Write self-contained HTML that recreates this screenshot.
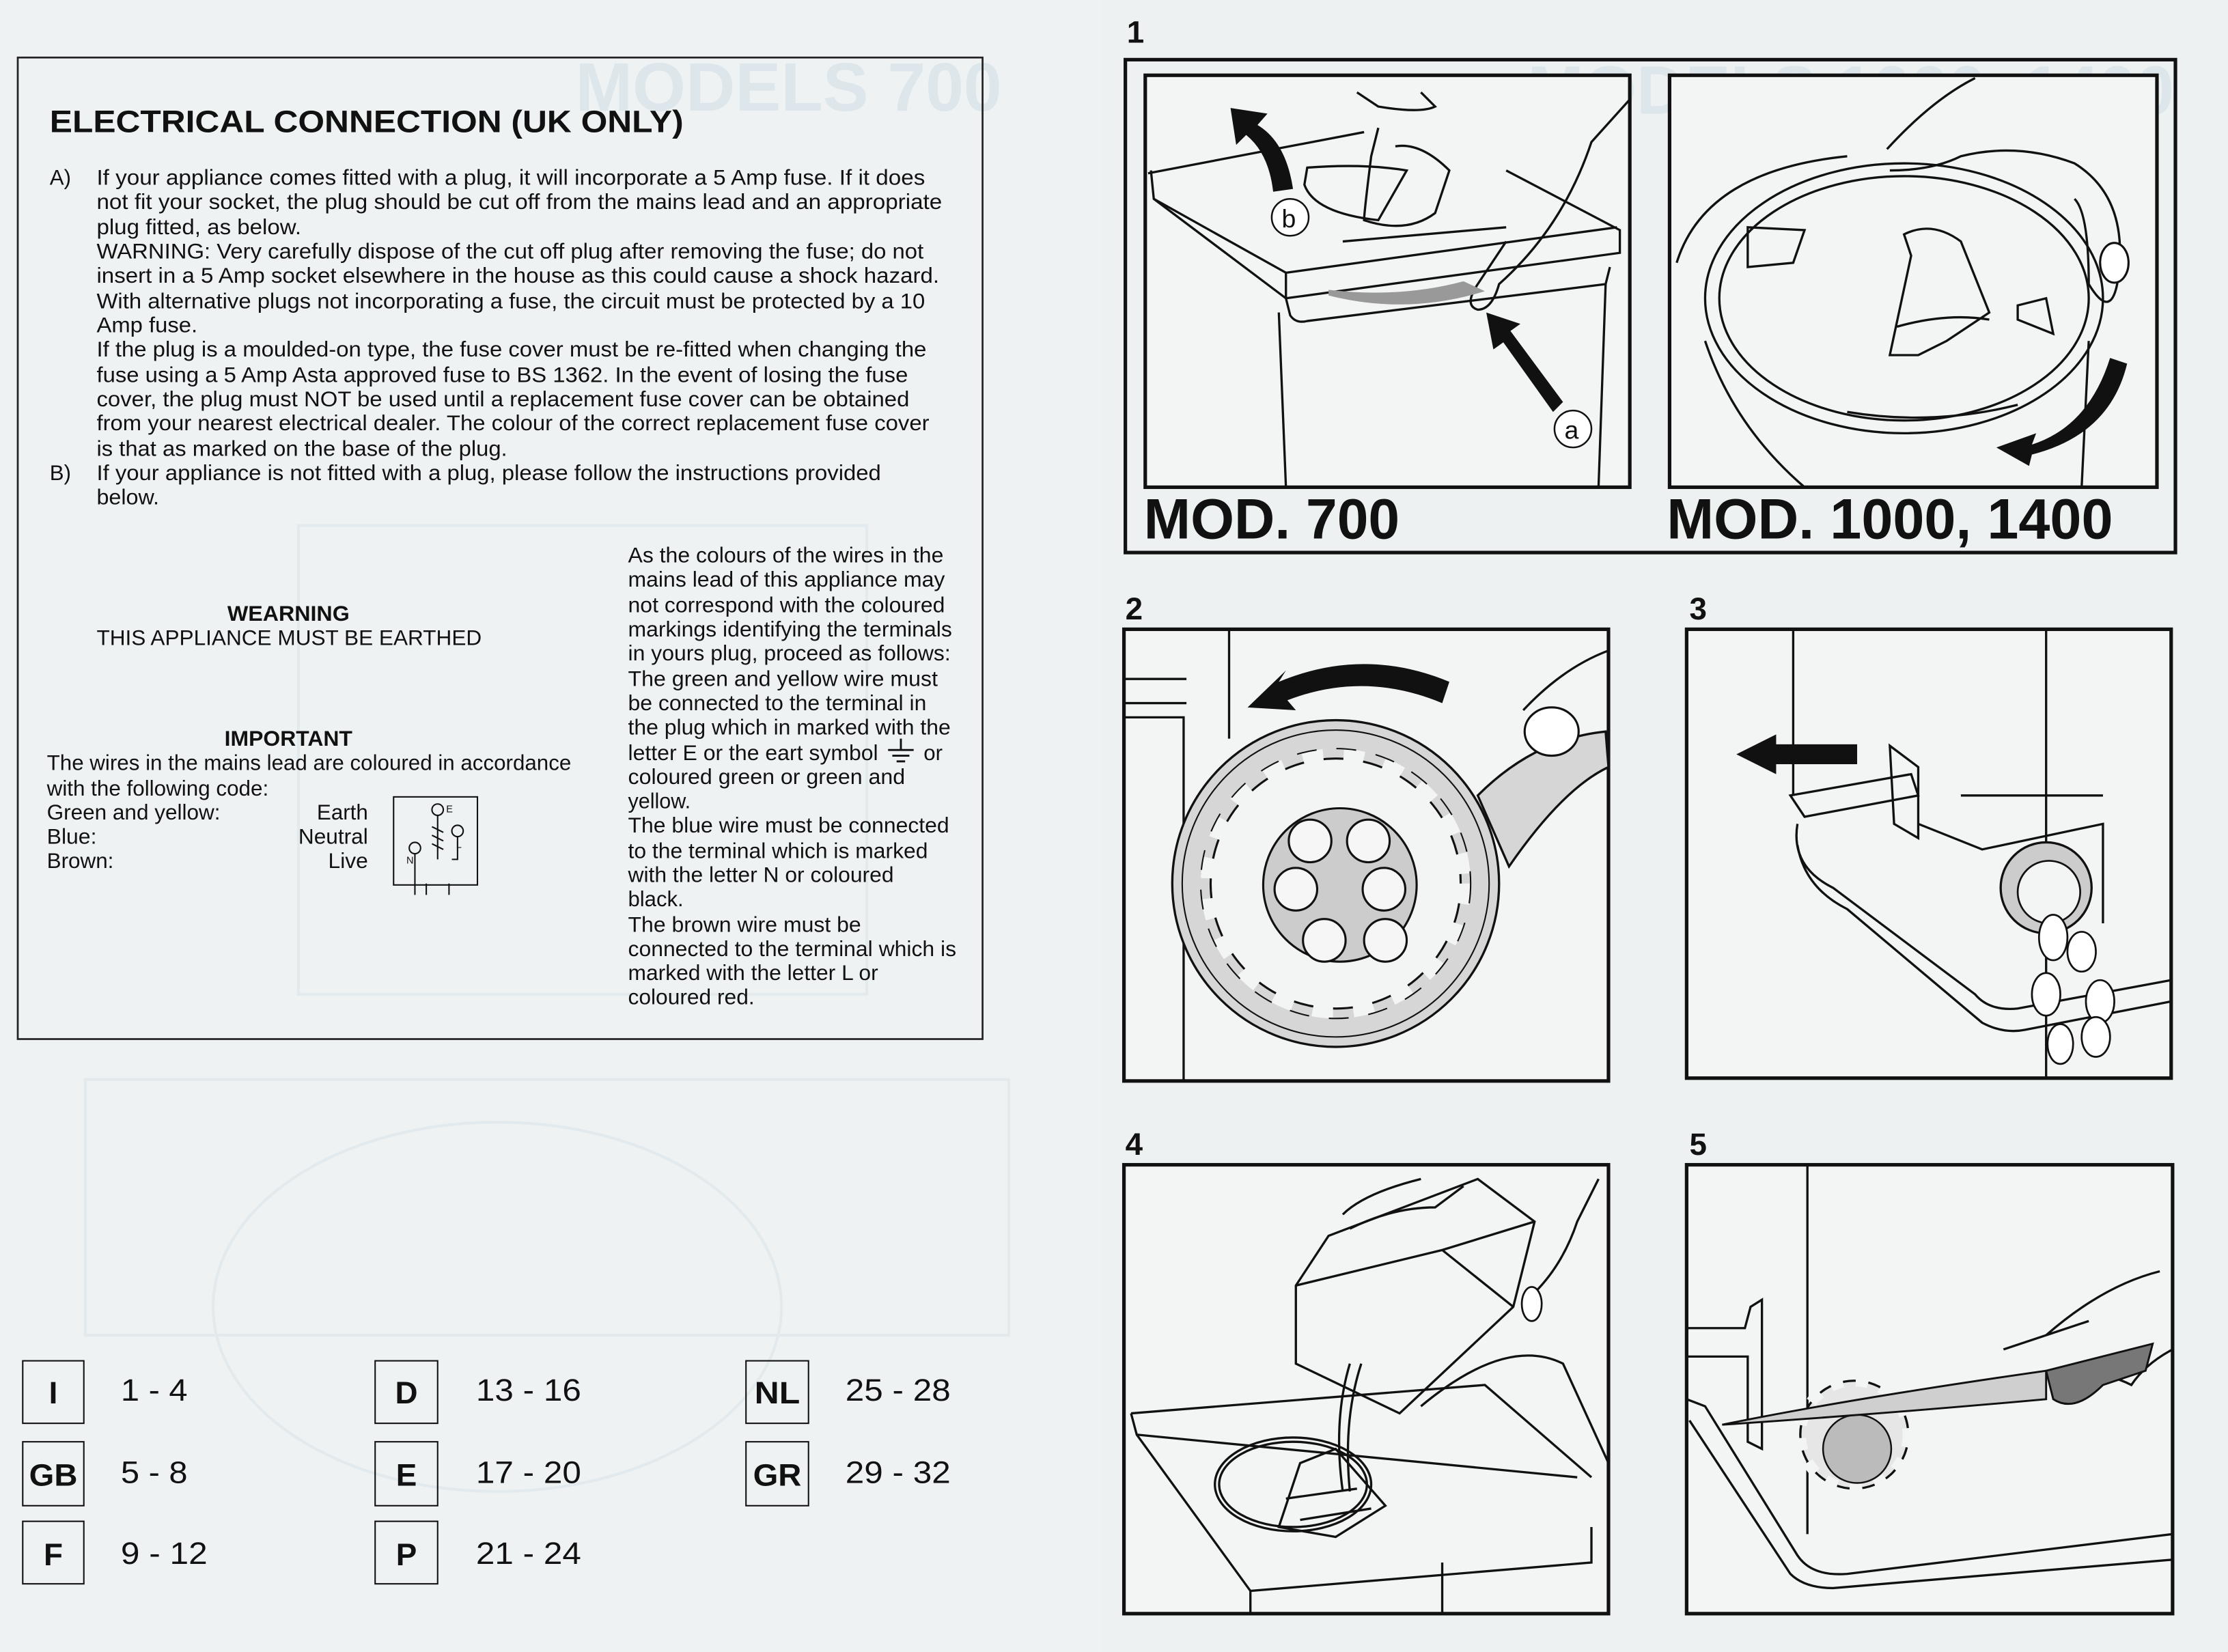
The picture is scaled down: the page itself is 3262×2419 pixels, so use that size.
<!DOCTYPE html>
<html><head><meta charset="utf-8"><style>
html,body{margin:0;padding:0;background:#eef2f3;}
svg{display:block}
text{font-family:"Liberation Sans",sans-serif;fill:#111}
text.gh{fill:#dde6eb}
.b{font-size:15px}
.g{fill:none;stroke:#111;stroke-width:1.6}
.t{fill:none;stroke:#111;stroke-width:1}
</style></head><body>
<svg width="3262" height="2419" viewBox="0 0 1568 1163" preserveAspectRatio="none" xmlns="http://www.w3.org/2000/svg">
<rect width="1568" height="1163" fill="#eef2f3"/>
<rect x="775" y="0" width="793" height="1163" fill="#edf1f2"/>
<!-- ghost background -->
<text class="gh" x="405" y="78" font-size="48" font-weight="bold" textLength="300" lengthAdjust="spacingAndGlyphs">MODELS 700</text>
<text class="gh" x="1075" y="80" font-size="48" font-weight="bold" textLength="455" lengthAdjust="spacingAndGlyphs">MODELS 1000, 1400</text>
<g fill="none" stroke="#e2eaee" stroke-width="2">
<rect x="210" y="370" width="400" height="330"/>
<ellipse cx="350" cy="920" rx="200" ry="130"/>
<rect x="60" y="760" width="650" height="180"/>
</g>
<!-- LEFT BOX -->
<rect x="12.5" y="40.5" width="679" height="691" fill="none" stroke="#222" stroke-width="1.3"/>
<text x="35" y="93" font-size="22" font-weight="bold" textLength="446" lengthAdjust="spacingAndGlyphs">ELECTRICAL CONNECTION (UK ONLY)</text>
<g class="b">
<text x="35" y="130">A)</text>
<text x="68" y="130" textLength="583" lengthAdjust="spacingAndGlyphs">If your appliance comes fitted with a plug, it will incorporate a 5 Amp fuse. If it does</text>
<text x="68" y="147" textLength="595" lengthAdjust="spacingAndGlyphs">not fit your socket, the plug should be cut off from the mains lead and an appropriate</text>
<text x="68" y="165" textLength="144" lengthAdjust="spacingAndGlyphs">plug fitted, as below.</text>
<text x="68" y="182" textLength="582" lengthAdjust="spacingAndGlyphs">WARNING: Very carefully dispose of the cut off plug after removing the fuse; do not</text>
<text x="68" y="199" textLength="593" lengthAdjust="spacingAndGlyphs">insert in a 5  Amp socket elsewhere in the house as this could cause a shock hazard.</text>
<text x="68" y="217" textLength="583" lengthAdjust="spacingAndGlyphs">With alternative plugs not incorporating a fuse, the circuit must be protected by a 10</text>
<text x="68" y="234" textLength="71" lengthAdjust="spacingAndGlyphs">Amp fuse.</text>
<text x="68" y="251" textLength="584" lengthAdjust="spacingAndGlyphs">If the plug is a moulded-on type, the fuse cover must be re-fitted when changing the</text>
<text x="68" y="269" textLength="571" lengthAdjust="spacingAndGlyphs">fuse using a 5 Amp Asta approved fuse to BS 1362. In the event of losing the fuse</text>
<text x="68" y="286" textLength="572" lengthAdjust="spacingAndGlyphs">cover, the plug must NOT be used until a replacement fuse cover can be obtained</text>
<text x="68" y="303" textLength="586" lengthAdjust="spacingAndGlyphs">from your nearest electrical dealer. The colour of the correct replacement fuse cover</text>
<text x="68" y="321" textLength="289" lengthAdjust="spacingAndGlyphs">is that as marked on the base of the plug.</text>
<text x="35" y="338">B)</text>
<text x="68" y="338" textLength="552" lengthAdjust="spacingAndGlyphs">If your appliance is not fitted with a plug, please follow the instructions provided</text>
<text x="68" y="355" textLength="44" lengthAdjust="spacingAndGlyphs">below.</text>

<text x="160" y="437" font-weight="bold" textLength="86" lengthAdjust="spacingAndGlyphs">WEARNING</text>
<text x="68" y="454" textLength="271" lengthAdjust="spacingAndGlyphs">THIS APPLIANCE MUST BE EARTHED</text>
<text x="158" y="525" font-weight="bold" textLength="90" lengthAdjust="spacingAndGlyphs">IMPORTANT</text>
<text x="33" y="542" textLength="369" lengthAdjust="spacingAndGlyphs">The wires in the mains lead are coloured in accordance</text>
<text x="33" y="560" textLength="156" lengthAdjust="spacingAndGlyphs">with the following code:</text>
<text x="33" y="577" textLength="122" lengthAdjust="spacingAndGlyphs">Green and yellow:</text>
<text x="33" y="594" textLength="35" lengthAdjust="spacingAndGlyphs">Blue:</text>
<text x="33" y="611" textLength="47" lengthAdjust="spacingAndGlyphs">Brown:</text>
<text x="223" y="577" textLength="36" lengthAdjust="spacingAndGlyphs">Earth</text>
<text x="210" y="594" textLength="49" lengthAdjust="spacingAndGlyphs">Neutral</text>
<text x="231" y="611" textLength="28" lengthAdjust="spacingAndGlyphs">Live</text>

<text x="442" y="396" textLength="222" lengthAdjust="spacingAndGlyphs">As the colours of the wires in the</text>
<text x="442" y="413" textLength="223" lengthAdjust="spacingAndGlyphs">mains lead of this appliance may</text>
<text x="442" y="431" textLength="223" lengthAdjust="spacingAndGlyphs">not correspond with the coloured</text>
<text x="442" y="448" textLength="228" lengthAdjust="spacingAndGlyphs">markings identifying the terminals</text>
<text x="442" y="465" textLength="227" lengthAdjust="spacingAndGlyphs">in yours plug, proceed as follows:</text>
<text x="442" y="483" textLength="218" lengthAdjust="spacingAndGlyphs">The green and yellow wire must</text>
<text x="442" y="500" textLength="210" lengthAdjust="spacingAndGlyphs">be connected to the terminal in</text>
<text x="442" y="517" textLength="227" lengthAdjust="spacingAndGlyphs">the plug which in marked with the</text>
<text x="442" y="535" textLength="176" lengthAdjust="spacingAndGlyphs">letter E or the eart symbol</text>
<text x="650" y="535">or</text>
<text x="442" y="552" textLength="195" lengthAdjust="spacingAndGlyphs">coloured green or green and</text>
<text x="442" y="569" textLength="44" lengthAdjust="spacingAndGlyphs">yellow.</text>
<text x="442" y="586" textLength="226" lengthAdjust="spacingAndGlyphs">The blue wire must be connected</text>
<text x="442" y="604" textLength="211" lengthAdjust="spacingAndGlyphs">to the terminal which is marked</text>
<text x="442" y="621" textLength="187" lengthAdjust="spacingAndGlyphs">with the letter N or coloured</text>
<text x="442" y="638" textLength="39" lengthAdjust="spacingAndGlyphs">black.</text>
<text x="442" y="656" textLength="164" lengthAdjust="spacingAndGlyphs">The brown wire must be</text>
<text x="442" y="673" textLength="231" lengthAdjust="spacingAndGlyphs">connected to the terminal which is</text>
<text x="442" y="690" textLength="176" lengthAdjust="spacingAndGlyphs">marked with the letter L or</text>
<text x="442" y="707" textLength="89" lengthAdjust="spacingAndGlyphs">coloured red.</text>
</g>
<!-- earth symbol -->
<g stroke="#111" stroke-width="1.4">
<line x1="634" y1="520" x2="634" y2="528"/><line x1="625" y1="528" x2="643" y2="528"/><line x1="628" y1="532" x2="640" y2="532"/><line x1="631" y1="536" x2="637" y2="536"/>
</g>
<!-- plug symbol -->
<g class="t" stroke-width="1.3">
<rect x="277" y="561" width="59" height="62"/>
<circle cx="308" cy="570" r="4"/><circle cx="292" cy="597" r="4"/><circle cx="322" cy="585" r="4"/>
<path d="M308 574 V605 M292 601 V630 M322 589 V605 H318 M300 630 V622 M316 630 V622"/>
<path d="M304 582 l8 4 M304 588 l8 4 M304 594 l8 4"/>
</g>
<text x="314" y="572" font-size="7">E</text><text x="286" y="608" font-size="7">N</text><text x="321" y="597" font-size="7">L</text>

<!-- language boxes -->
<g class="t" stroke-width="1.4">
<rect x="16" y="958" width="43" height="44"/><rect x="16" y="1015" width="43" height="45"/><rect x="16" y="1071" width="43" height="44"/>
<rect x="264" y="958" width="44" height="44"/><rect x="264" y="1015" width="44" height="45"/><rect x="264" y="1071" width="44" height="44"/>
<rect x="525" y="958" width="44" height="44"/><rect x="525" y="1015" width="44" height="45"/>
</g>
<g font-size="22" font-weight="bold" text-anchor="middle">
<text x="37.5" y="988">I</text><text x="37.5" y="1046" textLength="34" lengthAdjust="spacingAndGlyphs">GB</text><text x="37.5" y="1102">F</text>
<text x="286" y="988">D</text><text x="286" y="1046">E</text><text x="286" y="1102">P</text>
<text x="547" y="988" textLength="32" lengthAdjust="spacingAndGlyphs">NL</text><text x="547" y="1046" textLength="34" lengthAdjust="spacingAndGlyphs">GR</text>
</g>
<g font-size="22">
<text x="85" y="986" textLength="47" lengthAdjust="spacingAndGlyphs">1 - 4</text>
<text x="85" y="1044" textLength="47" lengthAdjust="spacingAndGlyphs">5 - 8</text>
<text x="85" y="1101" textLength="61" lengthAdjust="spacingAndGlyphs">9 - 12</text>
<text x="335" y="986" textLength="74" lengthAdjust="spacingAndGlyphs">13 - 16</text>
<text x="335" y="1044" textLength="74" lengthAdjust="spacingAndGlyphs">17 - 20</text>
<text x="335" y="1101" textLength="74" lengthAdjust="spacingAndGlyphs">21 - 24</text>
<text x="595" y="986" textLength="74" lengthAdjust="spacingAndGlyphs">25 - 28</text>
<text x="595" y="1044" textLength="74" lengthAdjust="spacingAndGlyphs">29 - 32</text>
</g>

<!-- RIGHT PAGE -->
<g font-size="22" font-weight="bold">
<text x="793" y="30">1</text><text x="792" y="436">2</text><text x="1189" y="436">3</text><text x="792" y="813">4</text><text x="1189" y="813">5</text>
</g>
<rect x="792" y="42" width="739" height="347" fill="none" stroke="#111" stroke-width="2.5"/>
<rect x="806" y="53" width="341" height="290" fill="#f3f5f5" stroke="#111" stroke-width="2.5"/>
<rect x="1175" y="53" width="343" height="290" fill="#f3f5f5" stroke="#111" stroke-width="2.5"/>
<text x="805" y="379" font-size="40" font-weight="bold" textLength="180" lengthAdjust="spacingAndGlyphs">MOD. 700</text>
<text x="1173" y="379" font-size="40" font-weight="bold" textLength="314" lengthAdjust="spacingAndGlyphs">MOD. 1000, 1400</text>

<!-- panel 1a -->
<g class="g">
<path d="M808 122 L960 93"/>
<path d="M810 120 L812 140 L905 210 L1140 178 L1140 162 L1060 120"/>
<path d="M812 140 L905 192 L905 210 M905 192 L1138 160"/>
<path d="M905 210 L908 222 Q912 228 920 226 L1130 200 L1133 188"/>
<path d="M900 220 L905 343 M1130 200 L1125 343"/>
<path d="M945 170 L1060 160"/>
<path d="M920 118 Q960 115 990 120 L970 155 Q925 150 918 130 Z"/>
<path d="M970 90 L965 110 Q960 150 960 155 Q990 165 1010 150 L1020 120 Q1000 100 982 103"/>
<path d="M1060 170 L1040 200 Q1030 215 1040 218 Q1050 218 1055 200 Q1100 160 1120 100 L1147 70"/>
<path d="M955 65 L970 75 Q1000 80 1010 75 L1000 65"/>
</g>
<path d="M935 208 Q990 222 1045 205 L1030 198 Q985 210 935 204 Z" fill="#999"/>
<path d="M910 133 Q905 100 885 88 L892 80 L866 76 L870 102 L877 95 Q893 108 896 135 Z" fill="#111"/>
<path d="M1100 283 L1063 233 L1070 228 L1046 220 L1051 246 L1058 241 L1093 290 Z" fill="#111"/>
<circle cx="908" cy="153" r="13" fill="#fff" stroke="#111" stroke-width="1.2"/><text x="902" y="160" font-size="18">b</text>
<circle cx="1107" cy="302" r="13" fill="#fff" stroke="#111" stroke-width="1.2"/><text x="1101" y="309" font-size="18">a</text>

<!-- panel 1b -->
<g class="g">
<ellipse cx="1340" cy="210" rx="140" ry="95"/>
<ellipse cx="1340" cy="210" rx="130" ry="86"/>
<path d="M1180 185 Q1200 120 1300 110"/>
<path d="M1200 240 Q1220 300 1270 343 M1470 240 L1465 343 M1300 290 Q1360 300 1420 285"/>
<path d="M1230 160 L1270 162 L1262 185 L1230 188 Z M1420 215 L1440 210 L1445 235 L1420 225 Z"/>
<path d="M1340 165 Q1360 155 1380 170 L1400 220 L1370 240 L1350 250 L1330 250 L1345 180 Z M1335 230 Q1370 220 1400 225"/>
<path d="M1328 105 Q1360 70 1390 55 M1330 120 Q1360 120 1380 110 Q1420 100 1460 115 Q1500 140 1490 200 Q1485 225 1470 200 Q1470 150 1460 140"/>
</g>
<ellipse cx="1488" cy="185" rx="10" ry="14" fill="#fff" stroke="#111" stroke-width="1.5"/>
<path d="M1485 252 Q1470 300 1430 313 L1433 305 L1405 315 L1428 328 L1430 320 Q1485 306 1497 256 Z" fill="#111"/>

<!-- panel 2 -->
<rect x="791" y="443" width="341" height="318" fill="#f3f5f5" stroke="#111" stroke-width="2.5"/>
<g class="g">
<path d="M791 478 H835 M791 495 H835 M791 505 H833 V761 M865 443 V520"/>
<path d="M1072 500 Q1100 470 1132 458"/>
</g>
<circle cx="940" cy="622" r="115" fill="#d6d6d6" stroke="#111" stroke-width="1.6"/>
<path d="M1040 560 Q1080 520 1130 515 L1132 540 Q1100 555 1062 610 Z" fill="#d6d6d6" stroke="#111" stroke-width="1.6"/>
<circle cx="940" cy="622" r="108" fill="none" stroke="#111" stroke-width="1"/>
<circle cx="940" cy="622" r="88" fill="#f3f5f5" stroke="#111" stroke-width="1.5"/>
<circle cx="940" cy="622" r="88" fill="none" stroke="#f3f5f5" stroke-width="14" stroke-dasharray="14 14"/>
<circle cx="940" cy="622" r="95" fill="none" stroke="#111" stroke-width="1" stroke-dasharray="14 14"/>
<circle cx="943" cy="623" r="54" fill="#ccc" stroke="#111" stroke-width="1.5"/>
<g fill="#f6f6f6" stroke="#111" stroke-width="1.5">
<circle cx="922" cy="592" r="15"/><circle cx="963" cy="592" r="15"/><circle cx="912" cy="626" r="15"/><circle cx="974" cy="626" r="15"/><circle cx="932" cy="662" r="15"/><circle cx="975" cy="662" r="15"/>
</g>
<ellipse cx="1092" cy="515" rx="19" ry="17" fill="#fff" stroke="#111" stroke-width="1.5"/>
<path d="M1020 480 Q960 455 900 480 L905 472 L878 498 L912 500 L906 493 Q960 472 1015 495 Z" fill="#111"/>

<!-- panel 3 -->
<rect x="1187" y="443" width="341" height="316" fill="#f3f5f5" stroke="#111" stroke-width="2.5"/>
<g class="g">
<path d="M1262 443 V560 M1440 443 V759"/>
<path d="M1265 580 Q1260 610 1290 625 L1390 700 Q1400 712 1420 710 L1528 690"/>
<path d="M1265 595 Q1270 625 1300 640 L1395 720 Q1410 728 1425 725 L1528 705"/>
<path d="M1260 560 L1345 545 L1350 560 L1270 575 Z M1330 525 L1350 540 L1350 590 L1333 580 Z"/>
<path d="M1350 580 L1395 598 L1480 580 L1480 650 M1380 560 L1480 560"/>
</g>
<circle cx="1440" cy="625" r="32" fill="#ccc" stroke="#111" stroke-width="1.6"/>
<circle cx="1442" cy="628" r="22" fill="#f3f5f5" stroke="#111" stroke-width="1.3"/>
<g fill="#fff" stroke="#111" stroke-width="1.3">
<ellipse cx="1445" cy="660" rx="10" ry="16"/><ellipse cx="1465" cy="670" rx="10" ry="14"/><ellipse cx="1440" cy="700" rx="10" ry="15"/><ellipse cx="1478" cy="705" rx="10" ry="15"/><ellipse cx="1450" cy="735" rx="9" ry="14"/><ellipse cx="1475" cy="730" rx="10" ry="14"/>
</g>
<path d="M1307 524 H1250 V517 L1222 531 L1250 545 V538 H1307 Z" fill="#111"/>

<!-- panel 4 -->
<rect x="791" y="820" width="341" height="316" fill="#f3f5f5" stroke="#111" stroke-width="2.5"/>
<g class="g">
<path d="M796 995 L1045 975 L1120 1040 M796 995 L800 1010 L880 1120 L1120 1100 L1120 1075"/>
<path d="M800 1010 L1110 1040 M880 1120 L880 1136 M1015 1100 V1136"/>
<ellipse cx="910" cy="1045" rx="55" ry="33"/>
<ellipse cx="910" cy="1045" rx="52" ry="30"/>
<path d="M915 1030 L940 1020 L975 1060 L940 1082 L900 1075 Z M905 1055 L955 1048 M915 1070 L965 1062"/>
<path d="M912 905 L935 870 L1040 830 L1080 860 L1065 920 L985 995 L912 960 Z"/>
<path d="M912 905 L1015 880 L1080 860 M1015 880 L1065 920"/>
<path d="M950 960 Q938 1000 945 1050 M958 960 Q945 1000 950 1050"/>
<path d="M945 855 Q960 840 1000 830 M950 865 Q980 850 1010 850 L1030 835 M1080 910 Q1100 890 1110 860 L1125 830"/>
<path d="M1000 990 Q1060 940 1100 960 L1132 1030"/>
</g>
<ellipse cx="1078" cy="918" rx="7" ry="12" fill="#fff" stroke="#111" stroke-width="1.3"/>

<!-- panel 5 -->
<rect x="1187" y="820" width="342" height="316" fill="#f3f5f5" stroke="#111" stroke-width="2.5"/>
<g class="g">
<path d="M1272 820 V1080 M1187 985 L1200 990 L1265 1095 Q1275 1110 1300 1108 L1529 1080"/>
<path d="M1189 1000 L1260 1108 Q1270 1118 1290 1118 L1529 1098"/>
<path d="M1187 935 H1228 L1232 920 L1240 915 L1240 1020 L1230 1015 V955 H1187 Z"/>
<path d="M1440 940 Q1480 905 1520 895 M1430 970 Q1470 960 1500 975 Q1510 960 1529 950"/>
<path d="M1410 950 Q1440 940 1470 930"/>
</g>
<circle cx="1305" cy="1010" r="38" fill="#e6e6e6" stroke="#111" stroke-width="1.6"/>
<circle cx="1305" cy="1010" r="38" fill="none" stroke="#f3f5f5" stroke-width="8" stroke-dasharray="9 9"/>
<circle cx="1307" cy="1020" r="24" fill="#bbb" stroke="#111" stroke-width="1.2"/>
<path d="M1212 1003 Q1300 985 1440 965 L1440 985 Q1330 995 1212 1003 Z" fill="#cfcfcf" stroke="#111" stroke-width="1.4"/>
<path d="M1440 965 L1515 946 L1510 965 L1480 975 Q1460 995 1445 985 Z" fill="#777" stroke="#111" stroke-width="1.4"/>
</svg>
</body></html>
